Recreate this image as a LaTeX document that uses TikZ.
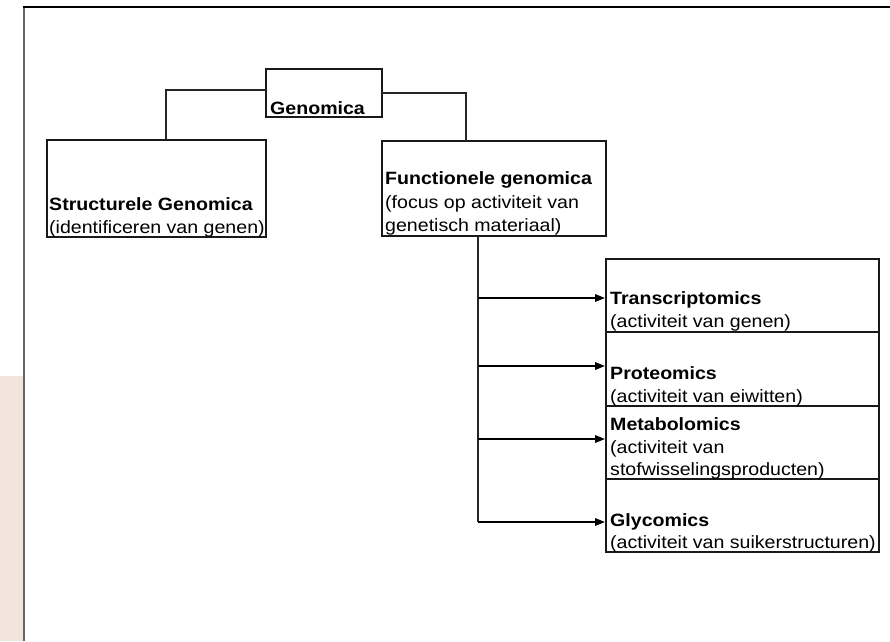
\documentclass[tikz,border=0pt]{standalone}
\usepackage{fontspec}
\setmainfont{Liberation Sans}[FakeStretch=1.1]
\usetikzlibrary{arrows.meta}
\definecolor{pinkbg}{RGB}{242,228,220}
\definecolor{framegray}{RGB}{100,100,100}
\begin{document}
\begin{tikzpicture}[x=1pt,y=-1pt,
  box/.style={draw=black!90, line width=1.4pt, inner sep=0pt, outer sep=0pt},
  txt/.style={anchor=base west, inner sep=0pt, font=\fontsize{17.8}{23}\selectfont},
  btxt/.style={txt, font=\fontsize{17.8}{23}\selectfont\bfseries},
  conn/.style={draw=black!85, line width=1.2pt},
  arr/.style={draw=black, line width=1.8pt, shorten >=1pt, -{Triangle[length=10pt,width=7.5pt]}}]
\useasboundingbox (0,0) rectangle (890,641);
% background strip and frame
\fill[pinkbg] (0,376) rectangle (22.5,641);
\draw[framegray, line width=2pt] (23.5,641) -- (23.5,7);
\draw[black, line width=2pt] (22.5,7) -- (890,7);
% boxes
\node[box, minimum width=116pt, minimum height=48pt] (gen) at (324,93) {};
\node[box, minimum width=219pt, minimum height=97pt] (str) at (156.5,188.5) {};
\node[box, minimum width=224pt, minimum height=95pt] (fun) at (494,188.5) {};
\node[box, minimum width=273pt, minimum height=73pt] (tra) at (742.5,295.5) {};
\node[box, minimum width=273pt, minimum height=74pt] (pro) at (742.5,369) {};
\node[box, minimum width=273pt, minimum height=73pt] (met) at (742.5,442.5) {};
\node[box, minimum width=273pt, minimum height=73pt] (gly) at (742.5,515.5) {};
% texts
\node[btxt] (tgen) at (270,114) {Genomica};
\node[btxt] (tstr1) at (49,210) {Structurele Genomica};
\node[txt] (tstr2) at (49,233) {(identificeren van genen)};
\node[btxt] (tfun1) at (385,184) {Functionele genomica};
\node[txt] (tfun2) at (385,208) {(focus op activiteit van};
\node[txt] (tfun3) at (385,231) {genetisch materiaal)};
\node[btxt] (ttra1) at (610,304) {Transcriptomics};
\node[txt] (ttra2) at (610,327) {(activiteit van genen)};
\node[btxt] (tpro1) at (610,379) {Proteomics};
\node[txt] (tpro2) at (610,402) {(activiteit van eiwitten)};
\node[btxt] (tmet1) at (610,430) {Metabolomics};
\node[txt] (tmet2) at (610,453) {(activiteit van};
\node[txt] (tmet3) at (610,475) {stofwisselingsproducten)};
\node[btxt] (tgly1) at (610,526) {Glycomics};
\node[txt] (tgly2) at (610,548) {(activiteit van suikerstructuren)};
% connectors from Genomica
\draw[conn] ([yshift=3pt]gen.west) -| ([xshift=9.5pt]str.north);
\draw[conn] (gen.east) -| ([xshift=-28pt]fun.north);
% trunk from Functionele genomica
\coordinate (trunk) at ([xshift=-16pt]fun.south);
\coordinate (a1) at (478,298);
\coordinate (a2) at (478,366);
\coordinate (a3) at (478,439);
\coordinate (a4) at (478,522);
\draw[conn] (trunk) -- (a4);
\draw[arr] (a1) -- (a1 -| tra.west);
\draw[arr] (a2) -- (a2 -| pro.west);
\draw[arr] (a3) -- (a3 -| met.west);
\draw[arr] (a4) -- (a4 -| gly.west);
\end{tikzpicture}
\end{document}
